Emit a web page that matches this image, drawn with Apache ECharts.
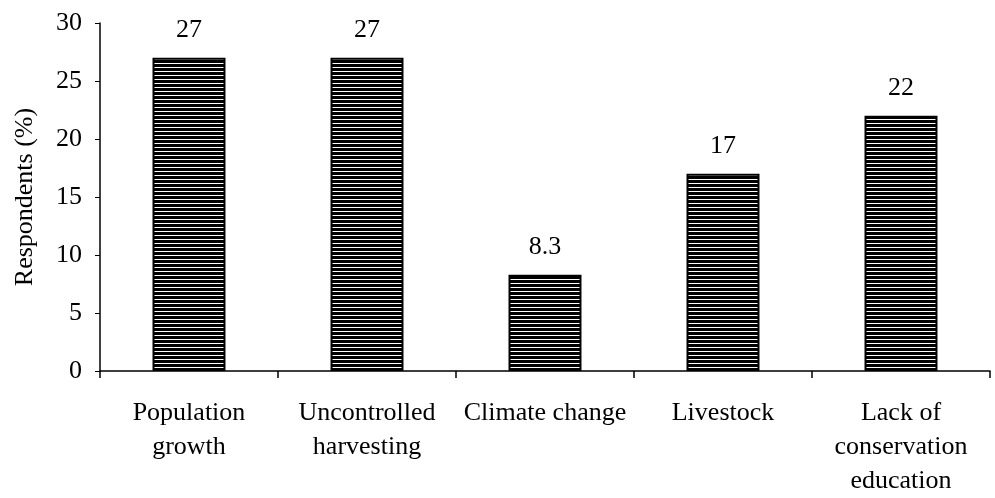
<!DOCTYPE html>
<html><head><meta charset="utf-8">
<script src="https://cdn.jsdelivr.net/npm/echarts@6/dist/echarts.min.js"></script>
<style>html,body{margin:0;padding:0;background:#fff}#c{width:995px;height:498px}</style>
</head><body><div id="c"></div>
<script>
const categories = ['Population\ngrowth', 'Uncontrolled\nharvesting', 'Climate change', 'Livestock', 'Lack of\nconservation\neducation'];
const values = [27, 27, 8.3, 17, 22];
const valueLabels = ['27', '27', '8.3', '17', '22'];
const yTicks = [0, 5, 10, 15, 20, 25, 30];

const pc = document.createElement('canvas');
pc.width = 4; pc.height = 4;
const g = pc.getContext('2d');
g.fillStyle = '#000'; g.fillRect(0, 0, 4, 4);
g.fillStyle = '#fff'; g.fillRect(0, 3, 4, 1);

const font = '"Liberation Serif", "Times New Roman", serif';
const chart = echarts.init(document.getElementById('c'));
chart.setOption({
  backgroundColor: '#fff',
  animation: false,
  grid: { left: 100, right: 5, top: 23, bottom: 127 },
  xAxis: {
    type: 'category', data: categories,
    axisLine: { lineStyle: { color: '#000', width: 1.5 } },
    axisTick: { show: true, length: 7, lineStyle: { color: '#000', width: 1.5 } },
    axisLabel: { color: '#000', fontFamily: font, fontSize: 26, lineHeight: 34, margin: 25, interval: 0 }
  },
  yAxis: {
    type: 'value', min: yTicks[0], max: yTicks[yTicks.length - 1], interval: 5,
    name: 'Respondents (%)', nameLocation: 'middle', nameGap: 62,
    nameTextStyle: { color: '#000', fontFamily: font, fontSize: 26 },
    axisLine: { show: true, lineStyle: { color: '#000', width: 1.5 } },
    axisTick: { show: true, length: 5, lineStyle: { color: '#000' } },
    axisLabel: { color: '#000', fontFamily: font, fontSize: 26, margin: 18 },
    splitLine: { show: false }
  },
  series: [{
    type: 'bar', data: values, barWidth: '41%',
    itemStyle: { color: { image: pc, repeat: 'repeat' }, borderColor: '#000', borderWidth: 2 },
    label: {
      show: true, position: 'top', distance: 15, color: '#000', fontFamily: font, fontSize: 26,
      formatter: p => valueLabels[p.dataIndex]
    }
  }]
});
</script></body></html>
